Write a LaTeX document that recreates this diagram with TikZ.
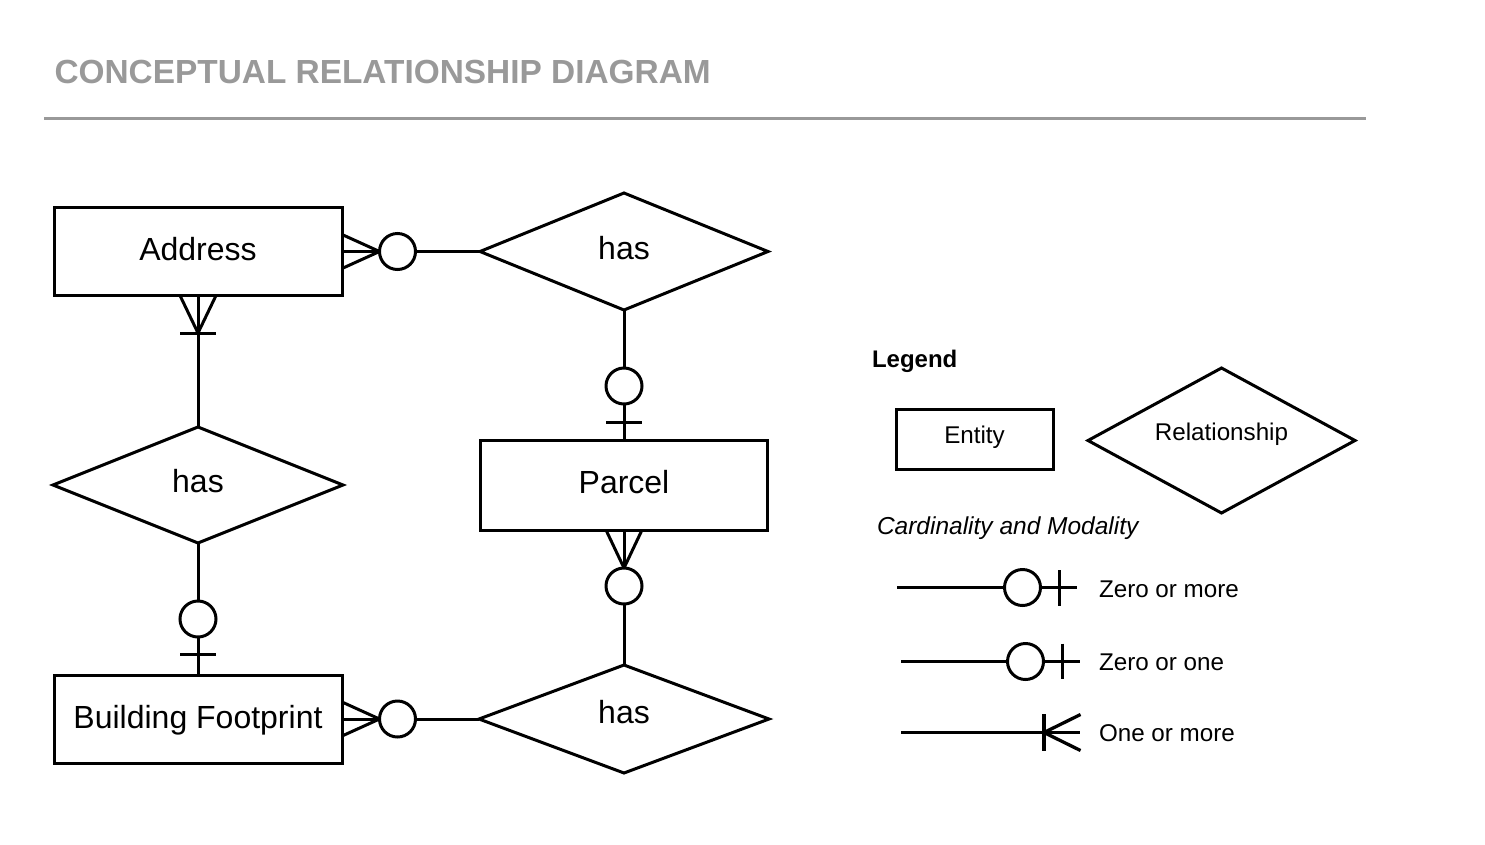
\documentclass[tikz,border=0pt]{standalone}
\usepackage{fontspec}
\setmainfont{Liberation Sans}
\usetikzlibrary{shapes.geometric}
\definecolor{titlegray}{RGB}{153,153,153}
\begin{document}
\begin{tikzpicture}[x=1pt,y=-1pt,line width=3pt,
  bigfont/.style={font=\fontsize{32}{36}\selectfont},
  smallfont/.style={font=\fontsize{24.2}{28}\selectfont},
  entitybox/.style={draw,rectangle,minimum width=288pt,minimum height=88pt,inner sep=0pt,outer sep=0pt,bigfont,text height=18.6pt,text depth=0pt},
  relbox/.style={draw,diamond,aspect=2,inner sep=0pt,outer sep=0pt,bigfont,text height=15pt,text depth=0pt},
  optcirc/.style={draw,circle,fill=white,minimum size=36pt,inner sep=0pt,outer sep=0pt},
  plaintext/.style={anchor=base west,inner sep=0pt,smallfont}]
\useasboundingbox (0,0) rectangle (1485,844);

% title
\node[anchor=base west,inner sep=0pt,font=\bfseries\fontsize{33.4}{40}\selectfont,text=titlegray] (title) at (53,83) {CONCEPTUAL RELATIONSHIP DIAGRAM};
\coordinate (ruleL) at (44,118);
\coordinate (ruleR) at (1366,118);
\draw[titlegray] (ruleL) -- (ruleR);

% entities and relationships
\node[entitybox] (addr) at (198,251.5) {Address};
\node[relbox,minimum width=288pt,minimum height=117pt] (hasA) at (624,251.5) {has};
\node[relbox,minimum width=290pt,minimum height=116pt] (hasL) at (198,485) {has};
\node[entitybox,minimum width=287pt,minimum height=90pt,text height=16.8pt] (parcel) at (624,485) {Parcel};
\node[entitybox] (bldg) at (198,719) {Building Footprint};
\node[relbox,minimum width=290pt,minimum height=108pt,text height=9pt] (hasB) at (624,719) {has};

% optionality circles
\node[optcirc] (cA) at (397.5,251.5) {};
\node[optcirc] (cP1) at (624,386) {};
\node[optcirc] (cP2) at (624,586) {};
\node[optcirc] (cL) at (198,619) {};
\node[optcirc] (cB) at (397.5,719) {};

% Address -- has (top)
\draw (addr.east) -- (cA.west);
\draw ([yshift=17pt]addr.east) -- (cA.west);
\draw ([yshift=-17pt]addr.east) -- (cA.west);
\draw (cA.east) -- (hasA.west);

% Address -- has (left)
\coordinate (ftA) at (198,333);
\draw (addr.south) -- (hasL.north);
\draw ([xshift=-18pt]addr.south) -- (ftA);
\draw ([xshift=18pt]addr.south) -- (ftA);
\draw ([xshift=-18pt]ftA) -- ([xshift=18pt]ftA);

% has (left) -- Building Footprint
\coordinate (barL) at (198,654);
\draw (hasL.south) -- (cL.north);
\draw (cL.south) -- (bldg.north);
\draw ([xshift=-18pt]barL) -- ([xshift=18pt]barL);

% has (top) -- Parcel
\coordinate (barP) at (624,422.5);
\draw (hasA.south) -- (cP1.north);
\draw (cP1.south) -- (parcel.north);
\draw ([xshift=-18pt]barP) -- ([xshift=18pt]barP);

% Parcel -- has (bottom)
\draw (parcel.south) -- (cP2.north);
\draw ([xshift=-18pt]parcel.south) -- (cP2.north);
\draw ([xshift=18pt]parcel.south) -- (cP2.north);
\draw (cP2.south) -- (hasB.north);

% Building Footprint -- has (bottom)
\draw (bldg.east) -- (cB.west);
\draw ([yshift=17pt]bldg.east) -- (cB.west);
\draw ([yshift=-17pt]bldg.east) -- (cB.west);
\draw (cB.east) -- (hasB.west);

% legend
\node[anchor=base west,inner sep=0pt,font=\bfseries\fontsize{24}{28}\selectfont] (leg) at (870.5,367) {Legend};
\node[draw,rectangle,minimum width=157pt,minimum height=60pt,inner sep=0pt,outer sep=0pt,smallfont,text height=8.6pt,text depth=0pt] (lent) at (974.5,439) {Entity};
\node[relbox,smallfont,minimum width=267pt,minimum height=145pt,text height=4pt,text depth=4pt] (lrel) at (1221.5,440.5) {Relationship};
\node[anchor=base west,inner sep=0pt,font=\itshape\fontsize{24.5}{28}\selectfont] (lcard) at (875.5,534) {Cardinality and Modality};

% row 1: zero or more
\coordinate (r1s) at (897,587.5);
\coordinate (r1e) at (1077,587.5);
\node[optcirc] (lc1) at (1022.5,587.5) {};
\draw (r1s) -- (lc1.west);
\draw (lc1.east) -- (r1e);
\coordinate (r1bt) at (1059,570);
\coordinate (r1bb) at (1059,605.5);
\draw (r1bt) -- (r1bb);
\node[plaintext] (t1) at (1097.5,597.3) {Zero or more};

% row 2: zero or one
\coordinate (r2s) at (901,661.5);
\coordinate (r2e) at (1080,661.5);
\node[optcirc] (lc2) at (1025.5,661.5) {};
\draw (r2s) -- (lc2.west);
\draw (lc2.east) -- (r2e);
\coordinate (r2bt) at (1062,643.5);
\coordinate (r2bb) at (1062,678.5);
\draw (r2bt) -- (r2bb);
\node[plaintext] (t2) at (1097.5,670) {Zero or one};

% row 3: one or more
\coordinate (r3s) at (901,732.5);
\coordinate (r3e) at (1080,732.5);
\coordinate (r3f) at (1044,732.5);
\coordinate (r3bt) at (1044,714);
\coordinate (r3bb) at (1044,751);
\coordinate (r3ut) at (1080.5,714.5);
\coordinate (r3ub) at (1080.5,750.5);
\draw[line width=3.6pt] (r3s) -- (r3e);
\draw[line width=3.3pt] (r3bt) -- (r3bb);
\draw[line width=3.3pt] (r3f) -- (r3ut);
\draw[line width=3.3pt] (r3f) -- (r3ub);
\node[plaintext] (t3) at (1097.5,741.7) {One or more};
\end{tikzpicture}
\end{document}
